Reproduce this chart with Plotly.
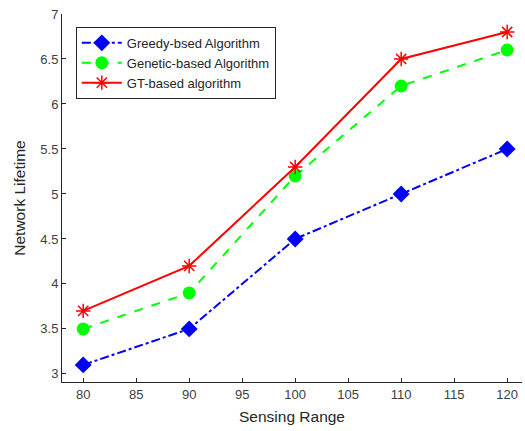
import plotly.graph_objects as go

sensing_range = [80, 90, 100, 110, 120]
greedy = [3.1, 3.5, 4.5, 5.0, 5.5]
genetic = [3.5, 3.9, 5.2, 6.2, 6.6]
gt = [3.7, 4.2, 5.3, 6.5, 6.8]

x_ticks = [80, 85, 90, 95, 100, 105, 110, 115, 120]
y_ticks = [3, 3.5, 4, 4.5, 5, 5.5, 6, 6.5, 7]
y_tick_text = ["3", "3.5", "4", "4.5", "5", "5.5", "6", "6.5", "7"]

font_family = "Liberation Sans, Arial, sans-serif"

fig = go.Figure()
fig.add_trace(go.Scatter(
    x=sensing_range, y=greedy, name="Greedy-bsed Algorithm", mode="lines+markers",
    line=dict(color="#0000ff", width=2, dash="dashdot"),
    marker=dict(symbol="diamond", size=13, color="#0000ff"),
))
fig.add_trace(go.Scatter(
    x=sensing_range, y=genetic, name="Genetic-based Algorithm", mode="lines+markers",
    line=dict(color="#00ff00", width=2, dash="dash"),
    marker=dict(symbol="circle", size=13, color="#00ff00"),
))
fig.add_trace(go.Scatter(
    x=sensing_range, y=gt, name="GT-based algorithm", mode="lines+markers",
    line=dict(color="#ff0000", width=2),
    marker=dict(symbol="asterisk", size=12, color="#ff0000", line=dict(color="#ff0000", width=1.5)),
))

fig.update_layout(
    width=525, height=431,
    margin=dict(l=62, r=3, t=14, b=49),
    paper_bgcolor="white", plot_bgcolor="white",
    font=dict(family=font_family, size=13, color="#404040"),
    showlegend=True,
    legend=dict(
        x=0.030, y=0.965, xanchor="left", yanchor="top",
        bgcolor="white", bordercolor="#262626", borderwidth=1,
        font=dict(size=13, color="#262626"),
        tracegroupgap=0, itemwidth=40,
    ),
    xaxis=dict(
        range=[78.0, 121.4], tickvals=x_ticks, ticks="inside", ticklen=4,
        tickcolor="#262626", showline=True, linecolor="#262626", linewidth=1,
        showgrid=False, zeroline=False,
        title=dict(text="Sensing Range", font=dict(size=15.5, color="#262626"), standoff=10),
        tickfont=dict(size=13, color="#404040"),
    ),
    yaxis=dict(
        range=[2.91, 7.0], tickvals=y_ticks, ticktext=y_tick_text, ticks="inside", ticklen=4,
        tickcolor="#262626", showline=True, linecolor="#262626", linewidth=1,
        showgrid=False, zeroline=False,
        title=dict(text="Network Lifetime", font=dict(size=15.5, color="#262626"), standoff=10),
        tickfont=dict(size=13, color="#404040"),
    ),
)

fig.write_html("out.html")
